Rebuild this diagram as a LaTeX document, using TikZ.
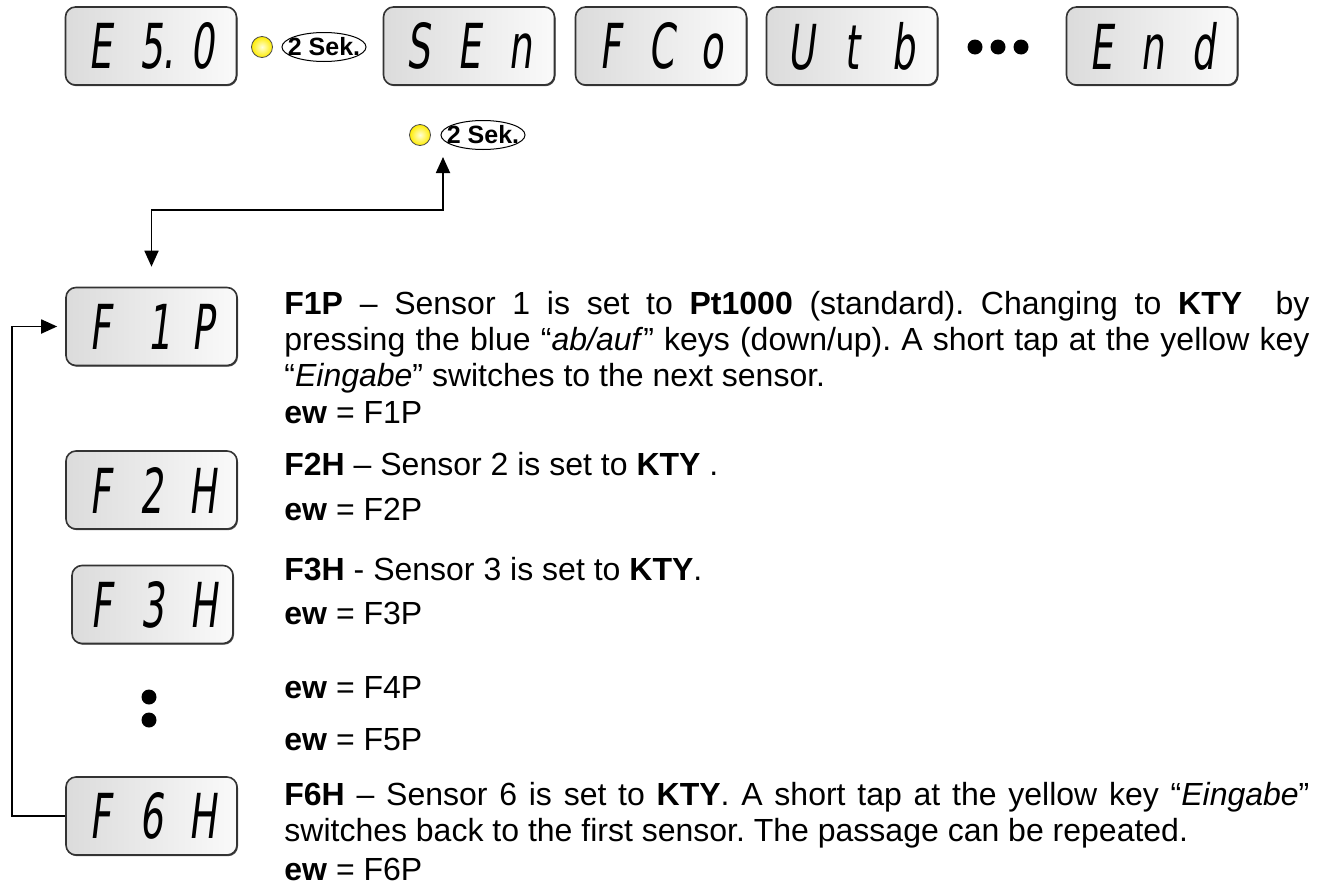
\documentclass[tikz,border=0pt]{standalone}
\usepackage{fontspec}
\setmainfont{Liberation Sans}
\newfontfamily\lcdfont[FakeSlant=0.12,FakeStretch=0.6]{DejaVu Sans}
\usetikzlibrary{arrows.meta, shapes.geometric, shadows}
\frenchspacing

% three character slots of a display
\newcommand{\lcd}[3]{{\lcdfont\fontsize{31}{31}\selectfont
  \makebox[25.5pt]{#1}\makebox[25.5pt]{#2}\makebox[25.5pt]{#3}}}

\begin{document}
\begin{tikzpicture}[x=0.5pt, y=-0.5pt,
  every node/.style={font=\fontsize{16}{18}\selectfont},
  >={Triangle[length=8pt,width=7pt]},
  lcd/.style={rectangle, draw=black!80, line width=0.8pt, rounded corners=5pt,
              minimum width=85.5pt, minimum height=39pt, inner sep=0pt,
              left color=black!14, right color=black!2,
              drop shadow={shadow xshift=0.5pt, shadow yshift=-0.6pt,
                           opacity=0.7, fill=black}},
  led/.style={circle, draw=black!70, line width=0.4pt, minimum size=10.5pt,
              inner sep=0pt, inner color=yellow!15, outer color=yellow!85!orange},
  sek/.style={ellipse, draw, line width=0.5pt, minimum width=42pt,
              minimum height=14.5pt, inner xsep=-4pt, inner ysep=-2.5pt,
              font=\fontsize{12.5}{12.5}\selectfont\bfseries},
  desc/.style={anchor=base west, text width=512.5pt, align=justify, inner sep=0pt},
  ew/.style={anchor=base west, inner sep=0pt},
  blob/.style={circle, fill=black, minimum size=7.5pt, inner sep=0pt},
  link/.style={line width=0.9pt},
]
  \useasboundingbox (0,0) rectangle (1322,884);

  % top row
  \node[lcd] (es0) at (151,46) {\lcd{E}{5\rlap{.}}{0}};
  \node[led] (led1) at (262,47) {};
  \node[sek] (sek1) at (324,47) {2 Sek.};
  \node[lcd] (sen) at (469,46) {\lcd{S}{E}{n}};
  \node[lcd] (fco) at (661,46) {\lcd{F}{C}{o}};
  \node[lcd] (utb) at (852,46) {\lcd{U}{t}{b}};
  \foreach \i/\xx in {1/975, 2/998, 3/1021}
    \node[blob] (more\i) at (\xx,47) {};
  \node[lcd] (end) at (1152,46) {\lcd{E}{n}{d}};

  \node[led] (led2) at (420,135) {};
  \node[sek] (sek2) at (483,135) {2 Sek.};

  % sensor displays
  \node[lcd] (f1p) at (151.5,326.5) {\lcd{F}{\hspace*{8pt}1}{P}};
  \node[lcd] (f2h) at (151.5,490) {\lcd{F}{2}{H}};
  \node[lcd, minimum width=80.5pt] (f3h) at (152.5,604.5) {\lcd{F}{3}{H}};
  \node[blob] (skip1) at (149,697) {};
  \node[blob] (skip2) at (149,720) {};
  \node[lcd] (f6h) at (151.5,816) {\lcd{F}{6}{H}};

  % descriptions
  \node[desc] (t1) at (284,314) {\textbf{F1P} – Sensor 1 is set to \textbf{Pt1000} (standard). Changing to \textbf{KTY}\ \ by\linebreak
    pressing the blue “\textit{ab/auf}” keys (down/up). A short tap at the yellow key\linebreak
    “\textit{Eingabe}” switches to the next sensor.};
  \node[ew] (e1) at (284,423) {\textbf{ew} = F1P};
  \node[desc] (t2) at (284,475) {\textbf{F2H} – Sensor 2 is set to \textbf{KTY} .};
  \node[ew] (e2) at (284,520) {\textbf{ew} = F2P};
  \node[desc] (t3) at (284,580) {\textbf{F3H} - Sensor 3 is set to \textbf{KTY}.};
  \node[ew] (e3) at (284,624) {\textbf{ew} = F3P};
  \node[ew] (e4) at (284,698) {\textbf{ew} = F4P};
  \node[ew] (e5) at (284,750) {\textbf{ew} = F5P};
  \node[desc] (t6) at (284,805) {\textbf{F6H} – Sensor 6 is set to \textbf{KTY}. A short tap at the yellow key “\textit{Eingabe}”\linebreak
    switches back to the first sensor. The passage can be repeated.};
  \node[ew] (e6) at (284,880) {\textbf{ew} = F6P};

  % connectors
  \coordinate (bend) at (443,210);
  \draw[link, <->] ([xshift=-20pt,yshift=-3.5pt]sek2.south) -- (bend)
    -| ([yshift=10pt]f1p.north);
  \draw[link, ->] (f6h.west) -- ++(-26.5pt,0) |- ([xshift=-4pt]f1p.west);
\end{tikzpicture}
\end{document}
